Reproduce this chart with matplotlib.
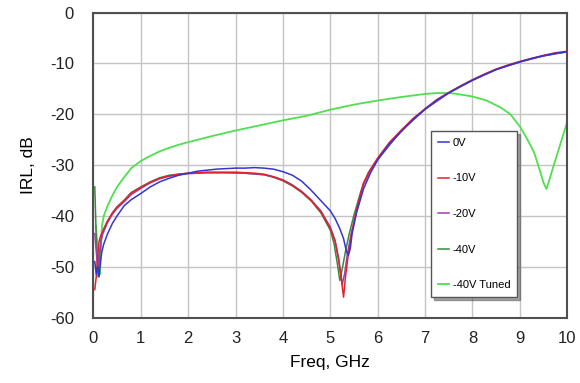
import numpy as np
import matplotlib.pyplot as plt

plt.rcParams['font.family'] = ['Liberation Sans', 'DejaVu Sans']
plt.rcParams['axes.unicode_minus'] = False

# frequency points (GHz) and IRL (dB)
f_0v = [0.03, 0.06, 0.09, 0.12, 0.15, 0.18, 0.22, 0.3, 0.4, 0.5, 0.65, 0.8, 1.0,
        1.2, 1.4, 1.6, 1.8, 2.0, 2.2, 2.4, 2.6, 2.8, 3.0, 3.2, 3.4, 3.6, 3.8,
        4.0, 4.2, 4.4, 4.6, 4.8, 5.0, 5.1, 5.2, 5.28, 5.34, 5.38, 5.42, 5.46,
        5.55, 5.7, 5.85, 6.0, 6.25, 6.5, 6.75, 7.0, 7.25, 7.5, 7.75, 8.0,
        8.25, 8.5, 8.75, 9.0, 9.25, 9.5, 9.75, 10.0]
irl_0v = [-49.0, -51.5, -50.0, -52.0, -49.0, -47.0, -45.5, -43.5, -41.5, -40.0,
          -38.0, -36.8, -35.6, -34.3, -33.3, -32.6, -32.0, -31.6, -31.2, -31.0,
          -30.8, -30.7, -30.6, -30.6, -30.5, -30.6, -30.8, -31.3, -32.0, -33.2,
          -35.0, -37.0, -39.0, -40.5, -42.5, -44.5, -47.0, -47.8, -46.5, -43.5,
          -39.5, -34.7, -31.5, -29.0, -25.8, -23.4, -21.0, -19.0, -17.2, -15.8,
          -14.5, -13.3, -12.2, -11.2, -10.4, -9.7, -9.0, -8.5, -8.0, -7.7]

f_10v = [0.03, 0.06, 0.09, 0.12, 0.15, 0.2, 0.3, 0.4, 0.5, 0.65, 0.8, 1.0, 1.2,
         1.4, 1.6, 1.8, 2.0, 2.2, 2.4, 2.6, 2.8, 3.0, 3.2, 3.4, 3.6, 3.8, 4.0,
         4.2, 4.4, 4.6, 4.8, 5.0, 5.1, 5.18, 5.24, 5.28, 5.32, 5.38, 5.46,
         5.55, 5.7, 5.85, 6.0, 6.25, 6.5, 6.75, 7.0, 7.25, 7.5, 7.75, 8.0,
         8.25, 8.5, 8.75, 9.0, 9.25, 9.5, 9.75, 10.0]
irl_10v = [-54.5, -52.0, -48.0, -45.0, -44.0, -43.0, -41.0, -39.5, -38.3, -37.0,
           -35.5, -34.4, -33.4, -32.6, -32.1, -31.8, -31.6, -31.5, -31.4, -31.4,
           -31.4, -31.4, -31.5, -31.6, -31.8, -32.3, -33.0, -34.0, -35.3, -37.0,
           -39.2, -42.5, -45.0, -49.0, -53.0, -56.0, -52.0, -47.5, -43.0, -39.0,
           -33.5, -30.8, -28.6, -25.5, -23.1, -20.8, -18.9, -17.1, -15.7, -14.4,
           -13.2, -12.1, -11.1, -10.3, -9.6, -9.0, -8.4, -7.9, -7.6]

f_20v = [0.03, 0.06, 0.09, 0.12, 0.16, 0.2, 0.3, 0.4, 0.5, 0.65, 0.8, 1.0, 1.2,
         1.4, 1.6, 1.8, 2.0, 2.4, 2.8, 3.2, 3.6, 3.8, 4.0, 4.2, 4.4, 4.6, 4.8,
         5.0, 5.1, 5.18, 5.25, 5.3, 5.36, 5.44, 5.55, 5.7, 5.85, 6.0, 6.5,
         7.0, 7.5, 8.0, 8.5, 9.0, 9.5, 10.0]
irl_20v = [-43.5, -47.0, -50.0, -48.0, -45.0, -43.5, -41.3, -39.7, -38.5, -37.2,
           -35.8, -34.6, -33.5, -32.7, -32.2, -31.9, -31.7, -31.5, -31.5, -31.6,
           -31.9, -32.3, -32.9, -33.9, -35.2, -36.9, -39.0, -42.2, -44.8, -48.5,
           -53.5, -51.5, -47.5, -43.5, -39.3, -33.8, -31.0, -28.8, -23.2, -19.0,
           -15.8, -13.3, -11.2, -9.7, -8.5, -7.7]

f_40v = [0.03, 0.06, 0.1, 0.13, 0.17, 0.22, 0.3, 0.4, 0.5, 0.65, 0.8, 1.0, 1.2,
         1.4, 1.6, 1.8, 2.0, 2.4, 2.8, 3.2, 3.6, 3.8, 4.0, 4.2, 4.4, 4.6, 4.8,
         5.0, 5.08, 5.15, 5.2, 5.25, 5.32, 5.4, 5.5, 5.65, 5.8, 6.0, 6.5,
         7.0, 7.5, 8.0, 8.5, 9.0, 9.5, 10.0]
irl_40v = [-34.3, -44.0, -52.0, -48.0, -44.0, -42.5, -41.0, -39.4, -38.2, -36.9,
           -35.4, -34.3, -33.3, -32.5, -32.0, -31.8, -31.6, -31.5, -31.5, -31.6,
           -31.9, -32.4, -33.1, -34.1, -35.4, -37.1, -39.4, -42.8, -45.5, -49.5,
           -52.7, -50.5, -47.0, -43.5, -39.8, -35.0, -31.5, -28.9, -23.2, -19.0,
           -15.8, -13.3, -11.2, -9.7, -8.5, -7.7]

f_tuned = [0.05, 0.1, 0.14, 0.18, 0.22, 0.3, 0.4, 0.5, 0.6, 0.7, 0.8, 1.0, 1.2,
           1.4, 1.6, 1.8, 2.0, 2.5, 3.0, 3.5, 4.0, 4.5, 5.0, 5.5, 6.0, 6.5,
           7.0, 7.3, 7.6, 8.0, 8.3, 8.6, 8.8, 9.0, 9.15, 9.3, 9.42, 9.5, 9.56,
           9.62, 9.7, 9.8, 9.9, 10.0]
irl_tuned = [-42.0, -47.0, -51.5, -42.0, -40.0, -38.0, -36.0, -34.3, -33.0,
             -31.8, -30.6, -29.2, -28.2, -27.3, -26.6, -26.0, -25.5, -24.3,
             -23.2, -22.2, -21.2, -20.3, -19.1, -18.1, -17.3, -16.6, -16.0,
             -15.8, -15.9, -16.5, -17.3, -18.7, -20.0, -22.4, -24.8, -27.5,
             -31.0, -33.5, -34.7, -33.0, -30.5, -27.5, -24.5, -21.5]

fig, ax = plt.subplots(figsize=(5.8, 3.83), dpi=100)
fig.subplots_adjust(left=0.161, right=0.978, top=0.967, bottom=0.171)

ax.plot(f_0v, irl_0v, color='#3535d0', lw=1.1, label='0V', zorder=6)
ax.plot(f_10v, irl_10v, color='#e4202c', lw=1.1, label='-10V', zorder=5)
ax.plot(f_20v, irl_20v, color='#9a40b0', lw=1.1, label='-20V', zorder=4)
ax.plot(f_40v, irl_40v, color='#3a8a3a', lw=1.1, label='-40V', zorder=3)
ax.plot(f_tuned, irl_tuned, color='#4ee04e', lw=1.3, label='-40V Tuned', zorder=2)

ax.set_xlim(0, 10)
ax.set_ylim(-60, 0)
ax.set_xticks(np.arange(0, 11, 1))
ax.set_yticks(np.arange(-60, 1, 10))
ax.grid(True, color='#c4c4c4', lw=1)
ax.set_axisbelow(True)
ax.tick_params(length=0, labelsize=12, colors='#222222')
ax.tick_params(axis='x', pad=10)
ax.tick_params(axis='y', pad=14)
for s in ax.spines.values():
    s.set_color('#505050')
    s.set_linewidth(1.5)

ax.set_xlabel('Freq, GHz', fontsize=12.5, labelpad=6)
ax.set_ylabel('IRL, dB', fontsize=12.5, labelpad=10)

leg = ax.legend(loc='upper left', bbox_to_anchor=(0.713, 0.611), borderaxespad=0,
                fontsize=8, labelspacing=2.3, handlelength=1.0, handletextpad=0.35,
                borderpad=0.6, fancybox=False, shadow=True, framealpha=1,
                edgecolor='#555555')
leg.get_frame().set_linewidth(1)
leg.set_zorder(10)

plt.savefig('out.png', dpi=100)
